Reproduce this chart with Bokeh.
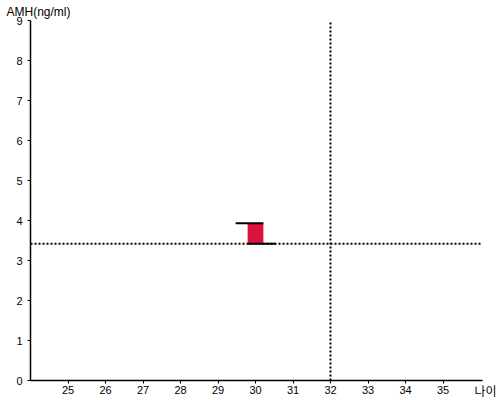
import numpy as np
from bokeh.plotting import figure
from bokeh.models import Label, FixedTicker, ColumnDataSource
from bokeh.embed import file_html
from bokeh.resources import INLINE

# ---- data ----
ages = [30]
amh_values = [3.93]
ref_age = [32]
ref_amh = [3.42]
x_ticks = [25, 26, 27, 28, 29, 30, 31, 32, 33, 34, 35]
y_ticks = [0, 1, 2, 3, 4, 5, 6, 7, 8, 9]
y_title = "AMH(ng/ml)"
x_title = "나이"

# ---- layout / style constants ----
X_MIN, X_MAX = 24, 36       # axis extent (data)
Y_MIN, Y_MAX = 0, 9
BAR_HALF = 0.21
WHISKER = 0.32
FONT = "Liberation Sans"

a = np.array(ages, dtype=float)
v = np.array(amh_values, dtype=float)
r = np.full_like(a, ref_amh[0])

src = ColumnDataSource(dict(
    left=a - BAR_HALF, right=a + BAR_HALF, top=v, bottom=r,
    tx0=a - BAR_HALF - WHISKER, tx1=a + BAR_HALF,
    bx0=a - BAR_HALF, bx1=a + BAR_HALF + WHISKER,
))

# frame covers whole canvas; axes are pinned at data locations
p = figure(width=500, height=400,
           x_range=(X_MIN - 30 / 37.5, X_MIN + 470 / 37.5),
           y_range=(Y_MIN - 20 / 40, Y_MAX + 20 / 40),
           output_backend="svg", toolbar_location=None,
           min_border=0)
p.outline_line_color = None
p.xgrid.visible = False
p.ygrid.visible = False
p.background_fill_color = "white"

for ax in (p.xaxis[0], p.yaxis[0]):
    ax.axis_line_color = "black"
    ax.axis_line_width = 1.5
    ax.major_tick_line_color = "black"
    ax.minor_tick_line_color = None
    ax.major_tick_in = 0
    ax.major_label_text_font = FONT
    ax.major_label_text_font_size = "11px"
    ax.major_label_text_color = "black"

xa = p.xaxis[0]
ya = p.yaxis[0]
xa.ticker = FixedTicker(ticks=x_ticks)
ya.ticker = FixedTicker(ticks=y_ticks)
xa.fixed_location = Y_MIN
ya.fixed_location = X_MIN
xa.bounds = (X_MIN, X_MAX + 0.05)
ya.bounds = (Y_MIN, Y_MAX)
xa.major_tick_out = 3
xa.major_label_standoff = 2
ya.major_tick_out = 3
ya.major_label_standoff = 5

# reference crosshair (dotted)
p.segment(x0=[X_MIN], y0=ref_amh, x1=[X_MAX], y1=ref_amh,
          line_color="black", line_width=2, line_dash="2 2")
p.segment(x0=ref_age, y0=[Y_MIN], x1=ref_age, y1=[Y_MAX],
          line_color="black", line_width=2, line_dash="2 2")

# bar and whiskers
p.quad(left="left", right="right", top="top", bottom="bottom", source=src,
       fill_color="#DC143C", line_color=None)
p.segment(x0="tx0", y0="top", x1="tx1", y1="top", source=src,
          line_color="black", line_width=2)
p.segment(x0="bx0", y0="bottom", x1="bx1", y1="bottom", source=src,
          line_color="black", line_width=2)

p.add_layout(Label(x=X_MIN, y=Y_MAX, x_offset=-24, y_offset=9, text=y_title,
                   text_font=FONT, text_font_size="12px", text_color="black",
                   text_baseline="alphabetic", text_align="left"))
p.add_layout(Label(x=X_MAX, y=Y_MIN, x_offset=-6, y_offset=-1, text=x_title,
                   text_font="Noto Sans CJK KR", text_font_size="12px",
                   text_color="black", text_baseline="top", text_align="left"))

open("out.html", "w").write(file_html(p, INLINE))
